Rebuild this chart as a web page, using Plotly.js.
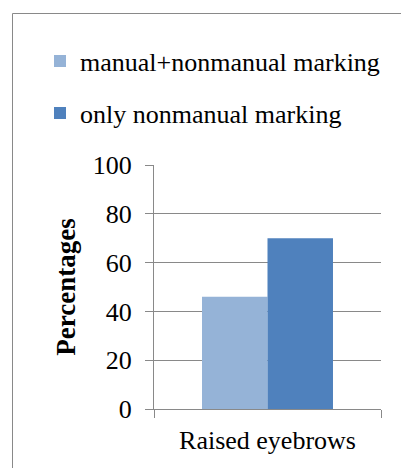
<!DOCTYPE html>
<html>
<head>
<meta charset="utf-8">
<script src="https://cdn.plot.ly/plotly-3.0.1.min.js"></script>
</head>
<body style="margin:0;padding:0;background:#fff">
<div id="chart" style="width:401px;height:468px"></div>
<script>
const categories = ["Raised eyebrows"];
const seriesNames = ["manual+nonmanual marking", "only nonmanual marking"];
const manualNonmanual = [46];
const onlyNonmanual = [70];
const yTickValues = [0, 20, 40, 60, 80, 100];

const FONT = "Liberation Serif, serif";
const GRAY = "#898989";
const f = (size) => ({family: FONT, size: size, color: "#000", weight: 400, style: "normal"});

const traces = [
  {type: "bar", x: categories, y: manualNonmanual, name: seriesNames[0],
   marker: {color: "#95b3d7"}, legend: "legend"},
  {type: "bar", x: categories, y: onlyNonmanual, name: seriesNames[1],
   marker: {color: "#4f81bd"}, legend: "legend2"}
];

const L = 154, R = 20, T = 165, B = 59;
const W = 401 - L - R, H = 468 - T - B;
const px = x => (x - L) / W;
const py = y => 1 - (y - T) / H;

const layout = {
  width: 401, height: 468,
  margin: {l: L, r: R, t: T, b: B, pad: 0},
  paper_bgcolor: "#fff", plot_bgcolor: "#fff",
  font: f(26),
  barmode: "group", bargap: 0.423, bargroupgap: 0,
  showlegend: true,
  legend: {x: px(40), xanchor: "left", y: py(61), yanchor: "middle",
           bgcolor: "rgba(0,0,0,0)", font: f(26)},
  legend2: {x: px(40), xanchor: "left", y: py(113), yanchor: "middle",
           bgcolor: "rgba(0,0,0,0)", font: f(26)},
  xaxis: {type: "category", showline: true, linecolor: GRAY, linewidth: 1,
          ticks: "outside", tickson: "boundaries", ticklen: 8, tickcolor: GRAY,
          ticklabelstandoff: 8,
          showgrid: false, tickfont: f(26), fixedrange: true},
  yaxis: {range: [0, 100], tickvals: yTickValues, ticktext: yTickValues.map(String),
          showline: true, linecolor: GRAY, linewidth: 1,
          ticks: "outside", ticklen: 8, tickcolor: GRAY, ticklabelstandoff: 8,
          showgrid: true, gridcolor: GRAY, gridwidth: 1, zeroline: false,
          tickfont: f(26),
          title: {text: "<b>Percentages</b>", font: {family: FONT, size: 27, color: "#000"}, standoff: 9},
          fixedrange: true},
  shapes: [{type: "rect", xref: "paper", yref: "paper",
            x0: px(12.5), x1: px(430), y0: py(500), y1: py(13.5),
            line: {color: GRAY, width: 1}, fillcolor: "rgba(0,0,0,0)", layer: "below"}]
};

Plotly.newPlot("chart", traces, layout, {displayModeBar: false, staticPlot: true});
</script>
</body>
</html>
